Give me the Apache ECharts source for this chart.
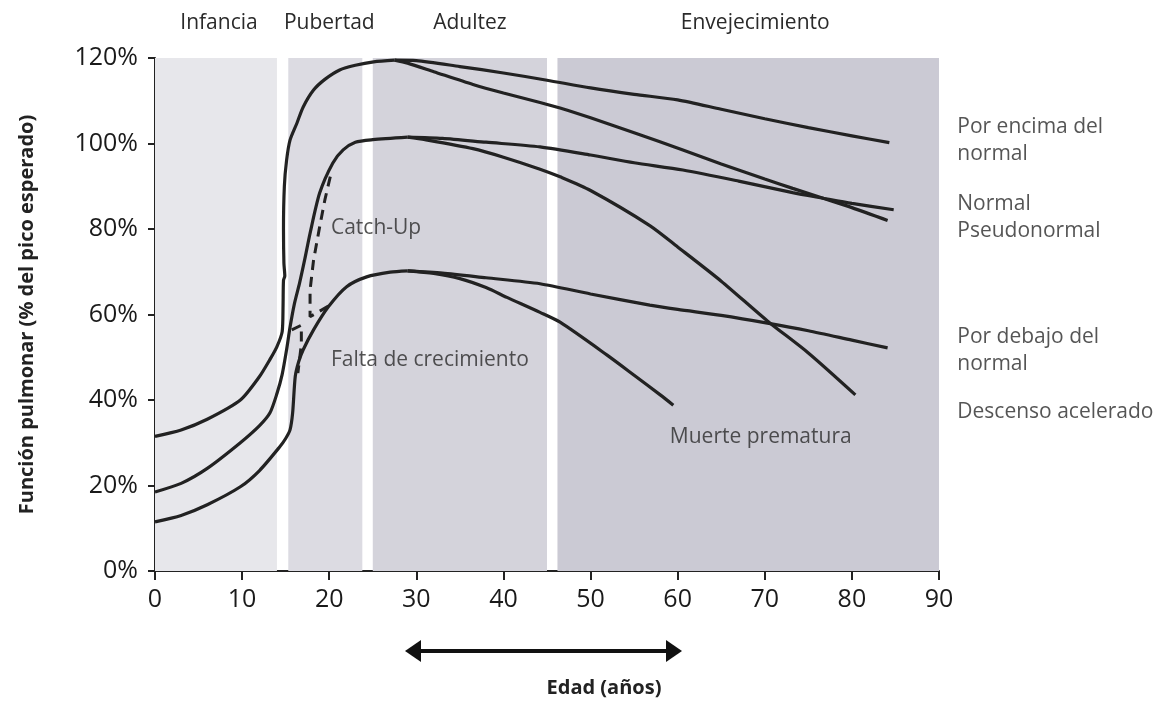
<!DOCTYPE html>
<html>
<head>
<meta charset="utf-8">
<script src="https://cdn.jsdelivr.net/npm/echarts@6/dist/echarts.min.js"></script>
<style>
  html, body { margin: 0; padding: 0; background: #fff; }
  #chart { width: 1170px; height: 704px; }
</style>
</head>
<body>
<div id="chart"></div>
<script>
// life stages (age ranges shaded behind the curves)
var stageNames = ["Infancia", "Pubertad", "Adultez", "Envejecimiento"];
var stageStart = [0, 15.3, 25, 46.2];
var stageEnd = [14, 23.8, 45, 90];
var stageColors = ["#e7e7eb", "#dcdbe2", "#d4d3db", "#cbcad4"];

// trajectories [age, % of expected peak]
var aboveRise = [[0, 31.5], [3, 33], [6, 35.5], [9.8, 40], [12, 45.5], [13.2, 49.5], [14, 52.5],
  [14.6, 56], [14.7, 62], [14.75, 68], [14.9, 69], [14.8, 72], [14.75, 80], [14.85, 90],
  [15.1, 96], [15.5, 100.8], [16.3, 104.8], [17, 108.5], [18.2, 112.5], [19.5, 115],
  [21.2, 117.2], [23, 118.3], [25.1, 119.1], [27.5, 119.5]];
var aboveTail = [[30, 119.4], [35, 118], [40, 116.5], [45, 114.8], [50, 113], [55, 111.5],
  [60, 110.2], [65, 108], [70, 105.8], [75, 103.7], [80, 101.8], [84.3, 100.2]];
var pseudoTail = [[29, 118.8], [32, 116.8], [36.5, 113.8], [40, 111.8], [44.2, 109.6], [46.5, 108.3],
  [50, 106], [55, 102.5], [60.6, 98.5], [65, 95.2], [70, 91.7], [73.2, 89.5], [76.7, 87.2],
  [80, 85], [84.1, 82]];

var normalRise = [[0, 18.5], [3, 20.5], [6, 24], [9.8, 30], [12, 34], [13.2, 37], [14, 41.5],
  [14.6, 46], [15.1, 51.7], [15.5, 57], [16, 62.5], [16.6, 67.4], [17.2, 73], [17.8, 79],
  [18.9, 88.4], [20.4, 95.4], [21.6, 98.5], [23, 100.3], [25, 100.9], [29, 101.5]];
var normalTail = [[33, 101.2], [38, 100.3], [44.2, 99.2], [50, 97.3], [55, 95.5], [60.6, 93.8],
  [67, 91.2], [73.2, 88.5], [76.7, 87.2], [80, 86], [84.8, 84.5]];
var declineTail = [[31, 100.9], [36.5, 98.8], [40, 96.8], [44.2, 94], [46.5, 92.2], [50, 89],
  [56.8, 80.8], [60, 75.8], [65, 67.8], [70.3, 58.5], [75, 51], [80.4, 41.2]];

var lowRise = [[0, 11.5], [3, 13], [6, 15.5], [9.8, 19.7], [12, 23.5], [14.3, 29], [15, 31],
  [15.5, 33], [15.8, 37], [16.1, 45.5], [16.5, 49], [17, 51.7], [18.2, 56.4], [19.9, 61.8],
  [22, 66.5], [24.3, 68.8], [27, 69.9], [29, 70.2]];
var belowTail = [[33, 69.7], [38, 68.6], [44.2, 67.2], [50, 64.8], [56.8, 62.2], [60, 61.2],
  [65, 59.8], [70.3, 58], [75, 56.2], [80, 54], [84.1, 52.2]];
var deathTail = [[32, 69.6], [35, 68.4], [38, 66.3], [40.4, 64], [44.2, 60.5], [46.5, 58.2],
  [51.9, 50.5], [55, 45.8], [58, 41.2], [59.5, 38.8]];

var catchUp = [[19.9, 62], [18.6, 60.4], [17.8, 59.5], [17.8, 65.7], [18.2, 72.7], [18.9, 80.5],
  [19.5, 86.8], [20.3, 93.8]];
var dropDown = [[15.7, 56.4], [16.8, 57.5], [16.8, 53], [16.4, 46.3]];

// text notes [age, %, text]
var innerNotes = [[20.2, 80.2, "Catch-Up"], [20.2, 49.4, "Falta de crecimiento"], [59.1, 31.3, "Muerte prematura"]];
var sideNotes = [[92.1, 100.8, "Por encima del\nnormal"], [92.1, 82.6, "Normal\nPseudonormal"],
  [92.1, 51.5, "Por debajo del\nnormal"], [92.1, 37.2, "Descenso acelerado"]];
var arrowSpan = [28.7, 60.5];

var FONT = "Open Sans";
var INK = "#222";
var stageLabelShift = [3, 4, 10, 7];

var chart = echarts.init(document.getElementById("chart"));

function curve(name, points, dashed) {
  return {
    name: name,
    type: "line",
    data: points,
    showSymbol: false,
    smooth: dashed ? false : 0.25,
    silent: true,
    z: dashed ? 4 : 3,
    lineStyle: { color: INK, width: dashed ? 3 : 3.2, type: dashed ? [10, 7] : "solid", cap: "butt" }
  };
}

// tails start where their rising part ends
function branch(rise, tail) {
  return [rise[rise.length - 1]].concat(tail);
}

function notes(list) {
  return {
    type: "scatter",
    symbolSize: 0,
    clip: false,
    silent: true,
    z: 5,
    data: list.map(function (n) { return { value: [n[0], n[1]], label: { formatter: n[2] } }; }),
    label: {
      show: true,
      position: "right",
      distance: 0,
      fontFamily: FONT,
      fontSize: 21,
      lineHeight: 27,
      color: "#2a2a2a"
    }
  };
}

var bands = stageNames.map(function (n, i) {
  return [
    { name: n, xAxis: stageStart[i], yAxis: 0, itemStyle: { color: stageColors[i] },
      label: { offset: [stageLabelShift[i], 0] } },
    { xAxis: stageEnd[i], yAxis: 120 }
  ];
});

chart.setOption({
  animation: false,
  grid: { left: 155, right: 231, top: 58, bottom: 133 },
  xAxis: {
    type: "value",
    min: 0,
    max: 90,
    interval: 10,
    splitLine: { show: false },
    axisLine: { lineStyle: { color: INK, width: 2 } },
    axisTick: { length: 9, lineStyle: { color: INK, width: 2 } },
    axisLabel: { fontFamily: FONT, fontSize: 25, color: "#1a1a1a", margin: 16 }
  },
  yAxis: {
    type: "value",
    min: 0,
    max: 120,
    interval: 20,
    splitLine: { show: false },
    axisLine: { show: true, lineStyle: { color: INK, width: 2 } },
    axisTick: { show: true, length: 7, lineStyle: { color: INK, width: 2 } },
    axisLabel: { fontFamily: FONT, fontSize: 25, color: "#1a1a1a", margin: 17, formatter: "{value}%" },
    name: "Función pulmonar (% del pico esperado)",
    nameLocation: "middle",
    nameRotate: 90,
    nameGap: 118,
    nameTextStyle: { fontFamily: FONT, fontSize: 20, fontWeight: "bold", color: INK }
  },
  series: [
    {
      type: "line",
      data: [],
      silent: true,
      markArea: {
        silent: true,
        data: bands,
        label: {
          show: true,
          position: "top",
          distance: 24,
          fontFamily: FONT,
          fontSize: 21,
          color: "#2a2a2a"
        }
      }
    },
    curve("encima-subida", aboveRise),
    curve("encima", branch(aboveRise, aboveTail)),
    curve("pseudonormal", branch(aboveRise, pseudoTail)),
    curve("normal-subida", normalRise),
    curve("normal", branch(normalRise, normalTail)),
    curve("descenso", branch(normalRise, declineTail)),
    curve("bajo-subida", lowRise),
    curve("debajo", branch(lowRise, belowTail)),
    curve("muerte", branch(lowRise, deathTail)),
    curve("catch-up", catchUp, true),
    curve("caida", dropDown, true),
    notes(innerNotes),
    notes(sideNotes)
  ]
});

// double arrow under the x axis and the x axis title
var ax = chart.convertToPixel({ xAxisIndex: 0 }, arrowSpan[0]);
var bx = chart.convertToPixel({ xAxisIndex: 0 }, arrowSpan[1]);
var ay = 651;
chart.setOption({
  graphic: [
    { type: "line", shape: { x1: ax + 12, y1: ay, x2: bx - 12, y2: ay }, style: { stroke: "#111", lineWidth: 4 } },
    { type: "polygon", shape: { points: [[ax, ay], [ax + 16, ay - 11], [ax + 16, ay + 11]] }, style: { fill: "#111" } },
    { type: "polygon", shape: { points: [[bx, ay], [bx - 16, ay - 11], [bx - 16, ay + 11]] }, style: { fill: "#111" } },
    {
      type: "text",
      x: 604,
      y: 688,
      style: {
        text: "Edad (años)",
        fontFamily: FONT,
        fontSize: 20,
        fontWeight: "bold",
        fill: INK,
        align: "center",
        verticalAlign: "middle"
      }
    }
  ]
});
</script>
</body>
</html>
